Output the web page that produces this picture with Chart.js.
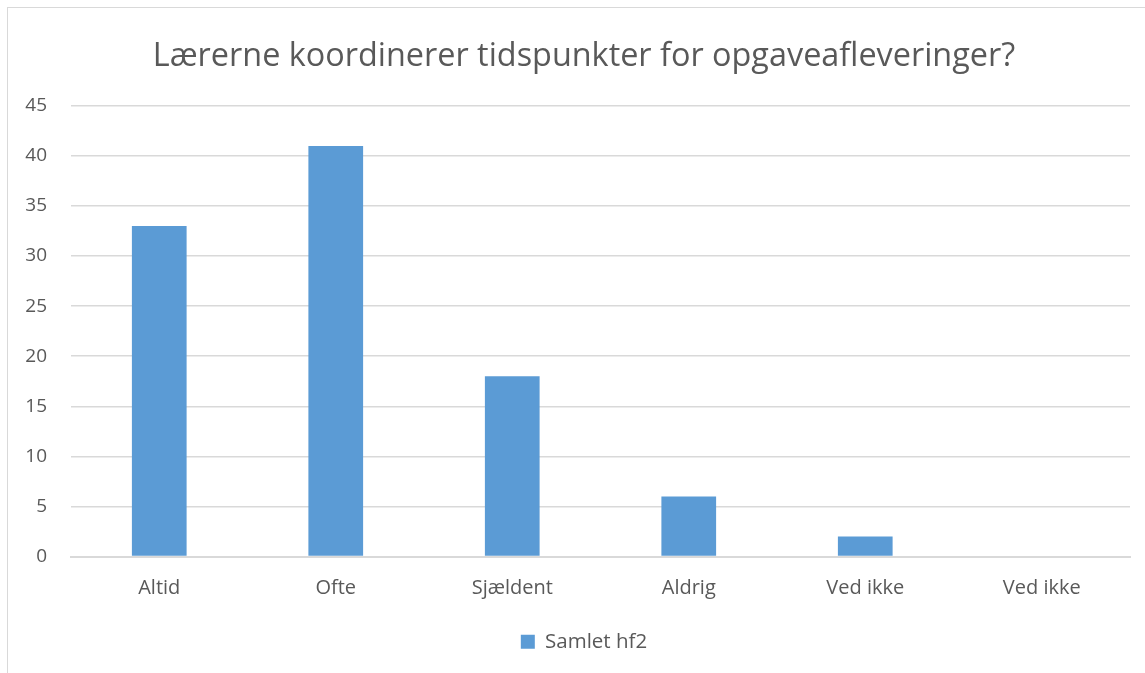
<!DOCTYPE html>
<html>
<head>
<meta charset="utf-8">
<script src="https://cdn.jsdelivr.net/npm/chart.js@4"></script>
<style>
  html, body { margin: 0; padding: 0; background: #fff; overflow: hidden; }
  #ramme {
    position: absolute; left: 7px; top: 7px;
    width: 1160px; height: 700px;
    border: 1px solid #d9d9d9;
  }
</style>
</head>
<body>
<div id="ramme"><canvas id="graf" width="1160" height="674"></canvas></div>
<script>
// data
var kategorier = ["Altid", "Ofte", "Sjældent", "Aldrig", "Ved ikke", "Ved ikke"];
var samletHf2 = [33, 41, 18, 6, 2, 0];
var yMax = 45;
var yStep = 5;

var tekstFarve = "#595959";
var gitterFarve = "#d9d9d9";
var skrift = "'Open Sans', 'Noto Sans', sans-serif";

// y-aksens tal skal kunne stå ude i venstre margen (ellers klippes de)
const yLabelPlads = {
  id: "yLabelPlads",
  afterLayout: function (chart) {
    chart.scales.y.left -= 30;
  },
};

const ctx = document.querySelector("#graf").getContext("2d");
new Chart(ctx, {
  type: "bar",
  data: {
    labels: kategorier,
    datasets: [
      {
        label: "Samlet hf2",
        data: samletHf2,
        backgroundColor: "#5b9bd5",
        barPercentage: 0.31,
        categoryPercentage: 1,
      },
    ],
  },
  options: {
    responsive: false,
    animation: false,
    layout: { padding: { left: 30, right: 38, top: 0, bottom: 20 } },
    plugins: {
      title: {
        display: true,
        text: "Lærerne koordinerer tidspunkter for opgaveafleveringer?",
        color: tekstFarve,
        font: { family: skrift, size: 32.4, weight: "normal" },
        padding: { top: 29, bottom: 30 },
      },
      legend: {
        position: "bottom",
        labels: {
          color: tekstFarve,
          font: { family: skrift, size: 20.5 },
          boxWidth: 14,
          boxHeight: 14,
          padding: 11,
        },
      },
      tooltip: { enabled: false },
    },
    scales: {
      x: {
        grid: { display: false, drawTicks: false },
        border: { display: true, color: gitterFarve, width: 2 },
        ticks: { color: tekstFarve, font: { family: skrift, size: 20 }, padding: 20 },
      },
      y: {
        min: 0,
        max: yMax,
        grid: { color: gitterFarve, lineWidth: 1.5, drawTicks: false },
        border: { display: false },
        ticks: {
          stepSize: yStep,
          color: tekstFarve,
          font: { family: skrift, size: 19 },
          padding: 24,
        },
        afterFit: function (scale) {
          scale.width = 33;
        },
      },
    },
  },
  plugins: [yLabelPlads],
});
</script>
</body>
</html>
